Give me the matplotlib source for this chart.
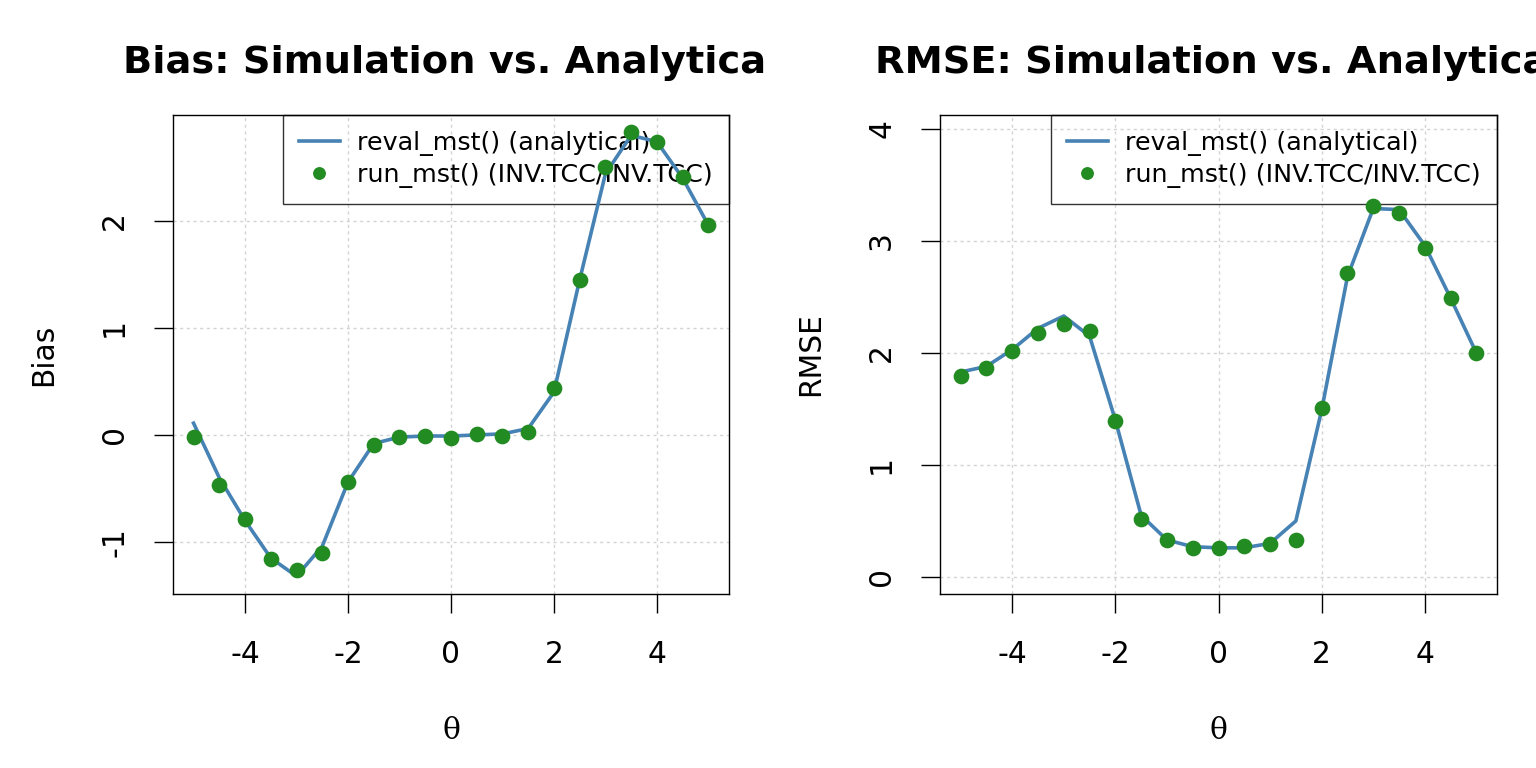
import matplotlib
matplotlib.use("Agg")
import matplotlib.pyplot as plt
from matplotlib.transforms import Bbox, TransformedBbox

plt.rcParams["axes.unicode_minus"] = False

# theta grid used in both panels
theta = [-5, -4.5, -4, -3.5, -3, -2.5, -2, -1.5, -1, -0.5, 0,
         0.5, 1, 1.5, 2, 2.5, 3, 3.5, 4, 4.5, 5]

# analytical (reval_mst) curves
bias_analytical = [0.11, -0.40, -0.80, -1.15, -1.32, -1.04, -0.44, -0.08, -0.02, -0.01, -0.01,
                   0.00, 0.01, 0.06, 0.40, 1.45, 2.44, 2.80, 2.74, 2.40, 1.96]
rmse_analytical = [1.83, 1.88, 2.03, 2.22, 2.33, 2.15, 1.40, 0.55, 0.33, 0.27, 0.26,
                   0.26, 0.30, 0.50, 1.49, 2.68, 3.29, 3.28, 2.96, 2.49, 2.00]

# simulation (run_mst) points
bias_sim = [-0.02, -0.47, -0.79, -1.16, -1.26, -1.10, -0.44, -0.09, -0.02, -0.01, -0.03,
            0.01, -0.01, 0.03, 0.44, 1.45, 2.50, 2.83, 2.74, 2.41, 1.96]
rmse_sim = [1.79, 1.87, 2.02, 2.18, 2.26, 2.20, 1.39, 0.52, 0.33, 0.26, 0.26,
            0.28, 0.29, 0.33, 1.51, 2.71, 3.31, 3.25, 2.94, 2.49, 2.00]

xticks = [-4, -2, 0, 2, 4]
bias_yticks = [-1, 0, 1, 2]
rmse_yticks = [0, 1, 2, 3, 4]

fig = plt.figure(figsize=(15.36, 7.68), dpi=100)

panels = [
    ([0.1126, 0.2266, 0.3620, 0.6237], bias_analytical, bias_sim, bias_yticks,
     (-1.486, 2.99), "Bias", "Bias: Simulation vs. Analytical", (0.0, 0.5)),
    ([0.6120, 0.2266, 0.3626, 0.6237], rmse_analytical, rmse_sim, rmse_yticks,
     (-0.152, 4.125), "RMSE", "RMSE: Simulation vs. Analytical", (0.5, 1.0)),
]

for rect, ana, sim, yt, ylim, ylab, title, xspan in panels:
    ax = fig.add_axes(rect)
    ax.set_xlim(-5.4, 5.4)
    ax.set_ylim(*ylim)
    ax.set_xticks(xticks)
    ax.set_yticks(yt)
    ax.set_yticklabels([str(v) for v in yt], rotation=90, va="center")
    ax.grid(True, color="#d3d3d3", linestyle=(0, (2.2, 2.6)), linewidth=1.0)
    ax.set_axisbelow(True)
    for sp in ax.spines.values():
        sp.set_linewidth(1.0)
    ax.tick_params(direction="out", length=14, width=1.0, labelsize=21.4)
    ax.tick_params(axis="x", pad=19.5)
    ax.tick_params(axis="y", pad=17.6)

    ax.plot(theta, ana, color="steelblue", linewidth=2.6, zorder=3,
            label="reval_mst() (analytical)")
    ax.plot(theta, sim, linestyle="none", marker="o", markersize=10.3,
            color="forestgreen", zorder=4, label="run_mst() (INV.TCC/INV.TCC)")

    leg = ax.legend(loc="upper right", fontsize=18.3, frameon=True, fancybox=False,
                    borderaxespad=0, handlelength=1.6, handletextpad=0.7,
                    borderpad=0.62, labelspacing=0.28, markerscale=0.8)
    leg.get_frame().set_facecolor("none")
    leg.get_frame().set_edgecolor("black")
    leg.get_frame().set_linewidth(1.0)
    leg.set_zorder(2)

    ax.set_ylabel(ylab, fontsize=21.4, labelpad=30)
    ax.set_xlabel("θ", fontsize=21.4, family="DejaVu Serif", labelpad=34)

    # R clips each title to its own panel region
    t = ax.set_title(title, fontsize=27.6, fontweight="bold", pad=30)
    clip = TransformedBbox(Bbox([[xspan[0], 0], [xspan[1], 1]]), fig.transFigure)
    t.set_clip_box(clip)
    t.set_clip_on(True)

fig.savefig("out.png", dpi=100)
